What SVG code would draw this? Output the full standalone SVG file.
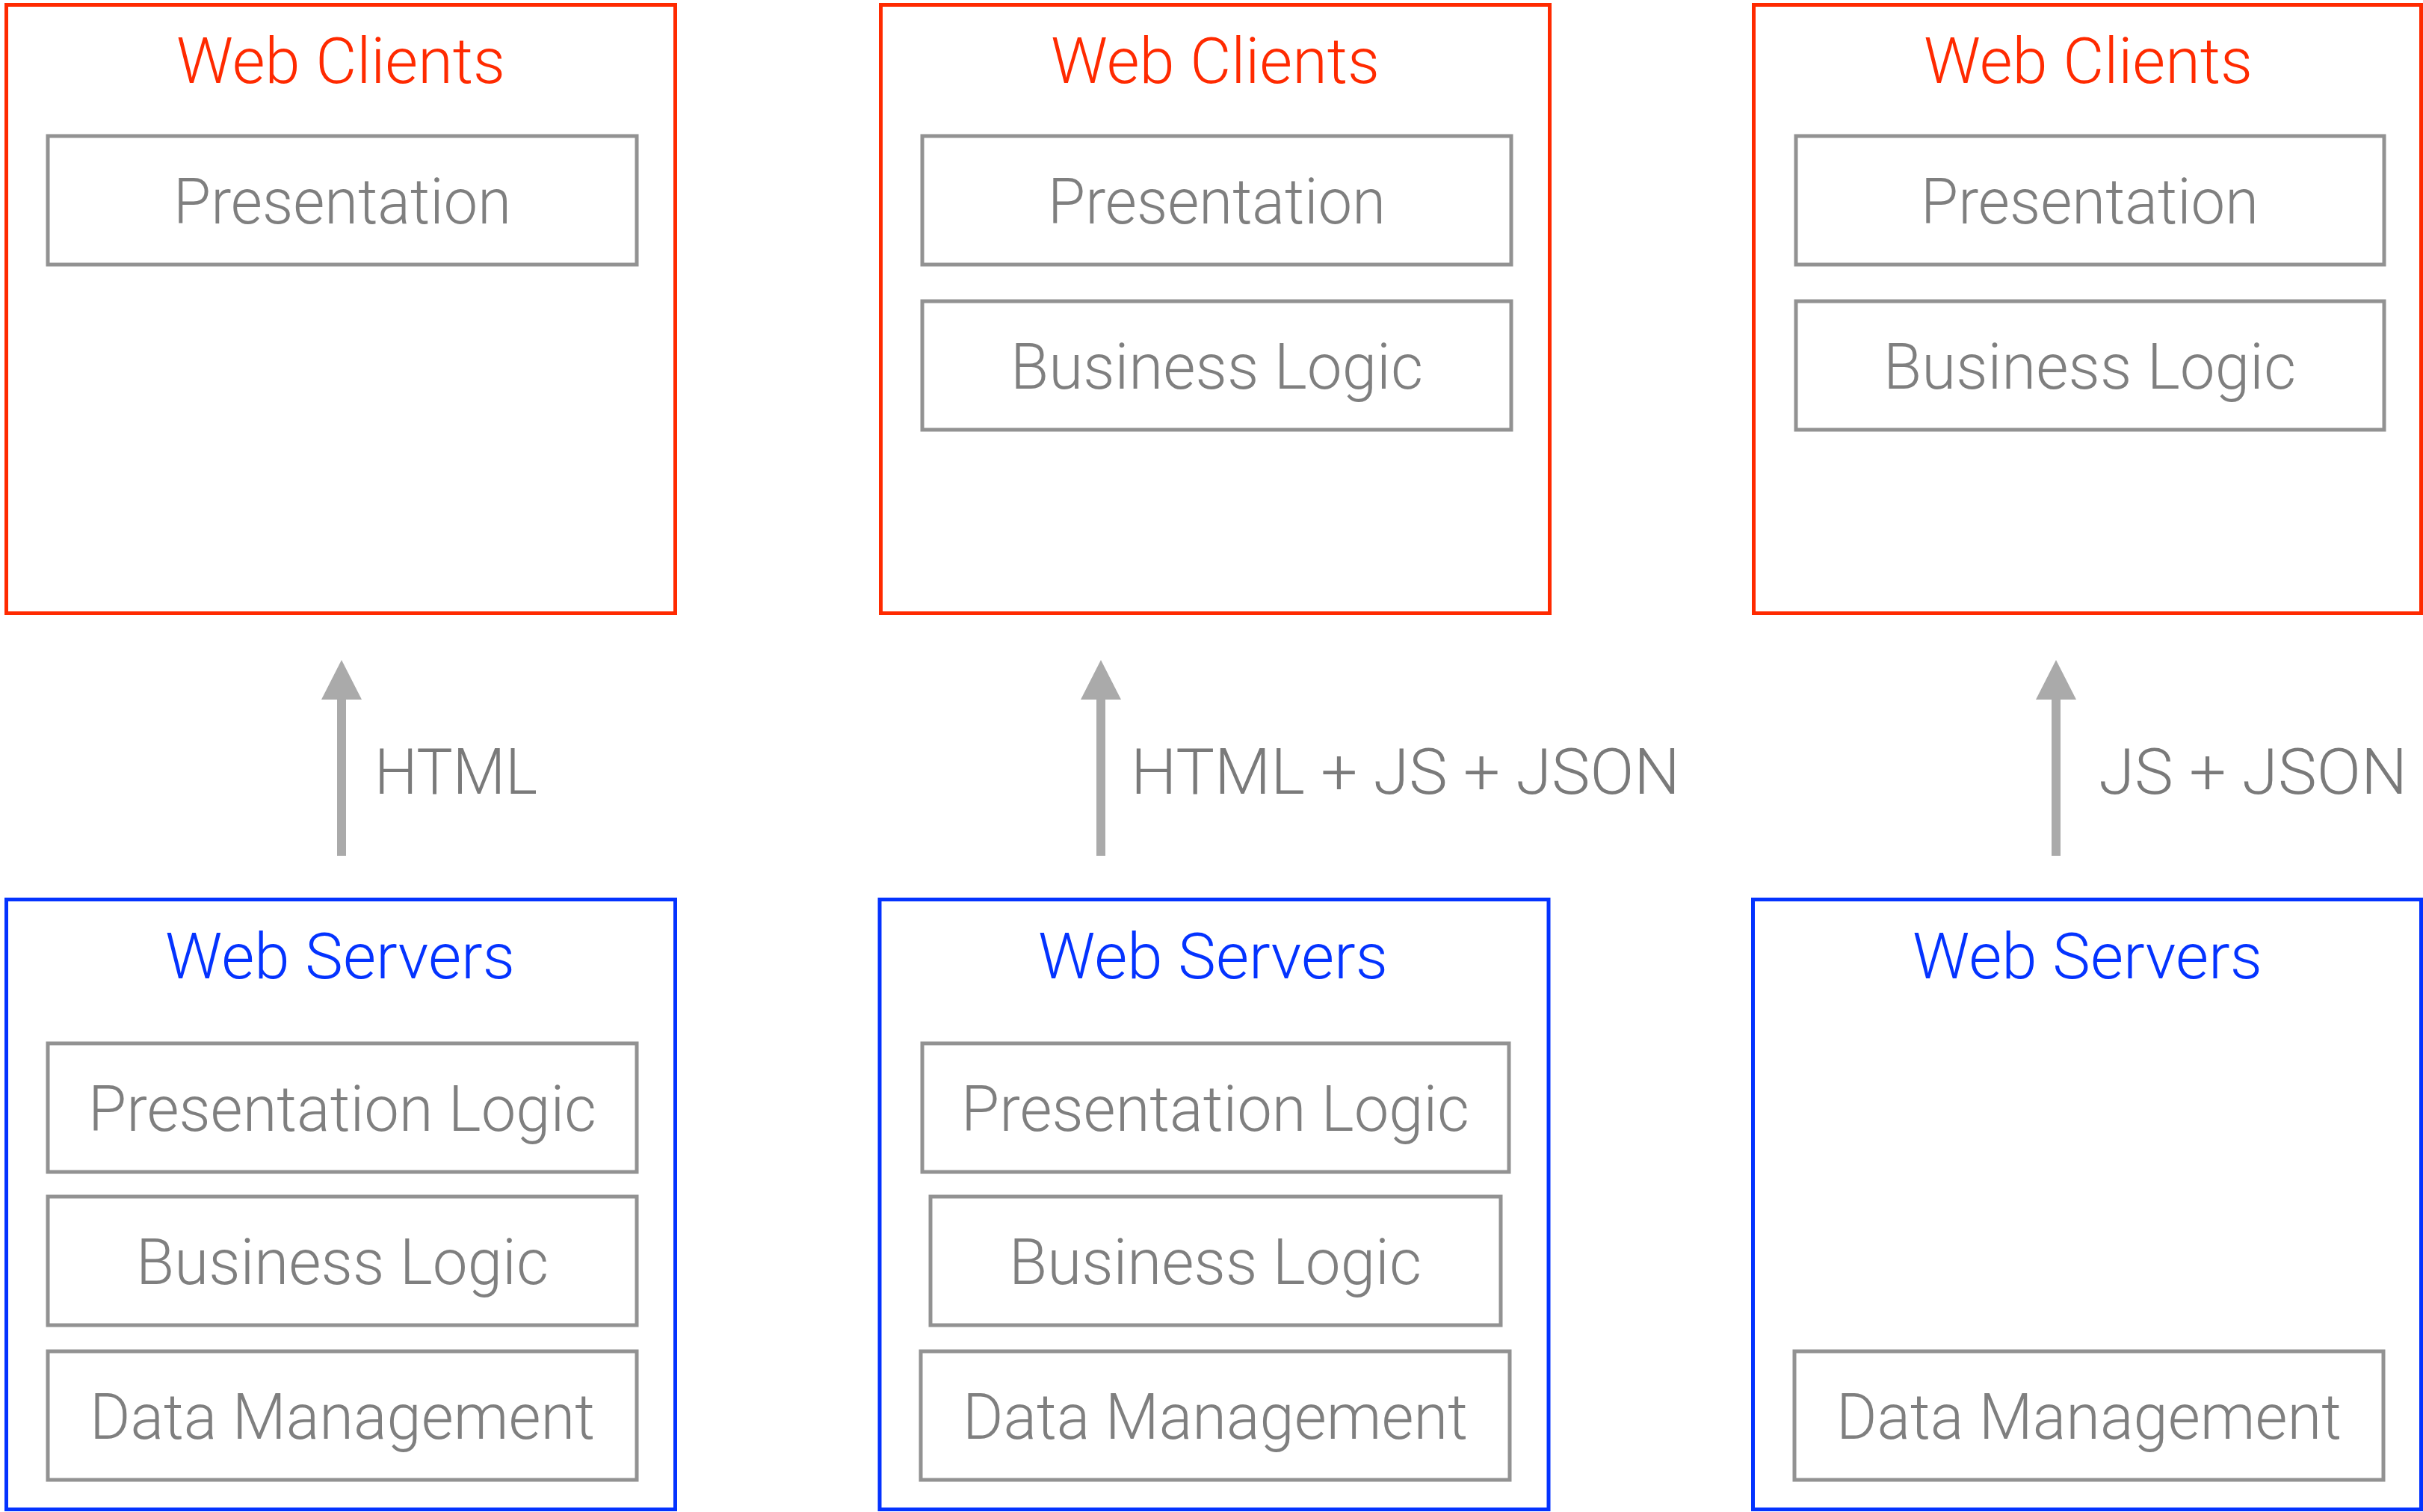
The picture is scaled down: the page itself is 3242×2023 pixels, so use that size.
<svg xmlns="http://www.w3.org/2000/svg" width="3242" height="2023" viewBox="0 0 3242 2023">
  <style>
    .client { fill: none; stroke: #ff2a00; stroke-width: 5; }
    .server { fill: none; stroke: #0433ff; stroke-width: 5; }
    .layer { fill: none; stroke: #929292; stroke-width: 5; }
    text { font-family: Roboto, "Liberation Sans", Arial, sans-serif; font-weight: 300; }
    .title { font-size: 86px; text-anchor: middle; }
    .title-c { fill: #ff2a00; }
    .title-s { fill: #0433ff; }
    .lbl { font-size: 85px; fill: #7f7f7f; text-anchor: middle; }
    .flow { font-size: 85px; fill: #7a7a7a; }
    .shaft { stroke: #aaaaaa; stroke-width: 12; fill: none; }
  </style>
  <defs>
    <marker id="head" markerUnits="userSpaceOnUse" viewBox="0 0 53 54" markerWidth="53" markerHeight="54" refX="0" refY="27" orient="auto">
      <path d="M0 0 L53 27 L0 54 Z" fill="#aaaaaa"/>
    </marker>
  </defs>
  <rect width="3242" height="2023" fill="#ffffff"/>

  <!-- Column 1: server-rendered pages -->
  <g id="client-1">
    <rect class="client" x="8.5" y="6.5" width="895" height="814"/>
    <text class="title title-c" x="456" y="111" textLength="440" lengthAdjust="spacingAndGlyphs">Web Clients</text>
    <rect class="layer" x="64" y="182" width="788" height="172"/>
    <text class="lbl" x="458" y="299" textLength="452" lengthAdjust="spacingAndGlyphs">Presentation</text>
  </g>
  <g id="server-1">
    <rect class="server" x="8.5" y="1203.5" width="895" height="816"/>
    <text class="title title-s" x="455" y="1309" textLength="468" lengthAdjust="spacingAndGlyphs">Web Servers</text>
    <rect class="layer" x="64" y="1396" width="788" height="172"/>
    <text class="lbl" x="458" y="1513" textLength="680" lengthAdjust="spacingAndGlyphs">Presentation Logic</text>
    <rect class="layer" x="64" y="1601" width="788" height="172"/>
    <text class="lbl" x="458" y="1718" textLength="552" lengthAdjust="spacingAndGlyphs">Business Logic</text>
    <rect class="layer" x="64" y="1808" width="788" height="172"/>
    <text class="lbl" x="458" y="1925" textLength="676" lengthAdjust="spacingAndGlyphs">Data Management</text>
  </g>

  <!-- Column 2: mixed rendering -->
  <g id="client-2">
    <rect class="client" x="1178.5" y="6.5" width="895" height="814"/>
    <text class="title title-c" x="1626" y="111" textLength="440" lengthAdjust="spacingAndGlyphs">Web Clients</text>
    <rect class="layer" x="1234" y="182" width="788" height="172"/>
    <text class="lbl" x="1628" y="299" textLength="452" lengthAdjust="spacingAndGlyphs">Presentation</text>
    <rect class="layer" x="1234" y="403" width="788" height="172"/>
    <text class="lbl" x="1628" y="520" textLength="552" lengthAdjust="spacingAndGlyphs">Business Logic</text>
  </g>
  <g id="server-2">
    <rect class="server" x="1177" y="1203.5" width="895" height="816"/>
    <text class="title title-s" x="1623" y="1309" textLength="468" lengthAdjust="spacingAndGlyphs">Web Servers</text>
    <rect class="layer" x="1234" y="1396" width="785" height="172"/>
    <text class="lbl" x="1626" y="1513" textLength="680" lengthAdjust="spacingAndGlyphs">Presentation Logic</text>
    <rect class="layer" x="1245" y="1601" width="763" height="172"/>
    <text class="lbl" x="1626" y="1718" textLength="552" lengthAdjust="spacingAndGlyphs">Business Logic</text>
    <rect class="layer" x="1232" y="1808" width="788" height="172"/>
    <text class="lbl" x="1626" y="1925" textLength="676" lengthAdjust="spacingAndGlyphs">Data Management</text>
  </g>

  <!-- Column 3: client-side application -->
  <g id="client-3">
    <rect class="client" x="2346.5" y="6.5" width="893" height="814"/>
    <text class="title title-c" x="2794" y="111" textLength="440" lengthAdjust="spacingAndGlyphs">Web Clients</text>
    <rect class="layer" x="2403" y="182" width="787" height="172"/>
    <text class="lbl" x="2796" y="299" textLength="452" lengthAdjust="spacingAndGlyphs">Presentation</text>
    <rect class="layer" x="2403" y="403" width="787" height="172"/>
    <text class="lbl" x="2796" y="520" textLength="552" lengthAdjust="spacingAndGlyphs">Business Logic</text>
  </g>
  <g id="server-3">
    <rect class="server" x="2345.5" y="1203.5" width="894" height="816"/>
    <text class="title title-s" x="2793" y="1309" textLength="468" lengthAdjust="spacingAndGlyphs">Web Servers</text>
    <rect class="layer" x="2401" y="1808" width="788" height="172"/>
    <text class="lbl" x="2795" y="1925" textLength="676" lengthAdjust="spacingAndGlyphs">Data Management</text>
  </g>

  <!-- Payloads sent from server to client -->
  <g id="connectors">
    <line class="shaft" x1="457" y1="1145" x2="457" y2="936" marker-end="url(#head)"/>
    <text class="flow" x="501" y="1062" textLength="218" lengthAdjust="spacingAndGlyphs">HTML</text>
    <line class="shaft" x1="1473" y1="1145" x2="1473" y2="936" marker-end="url(#head)"/>
    <text class="flow" x="1513" y="1062" textLength="735" lengthAdjust="spacingAndGlyphs">HTML + JS + JSON</text>
    <line class="shaft" x1="2751" y1="1145" x2="2751" y2="936" marker-end="url(#head)"/>
    <text class="flow" x="2808" y="1062" textLength="413" lengthAdjust="spacingAndGlyphs">JS + JSON</text>
  </g>
</svg>
